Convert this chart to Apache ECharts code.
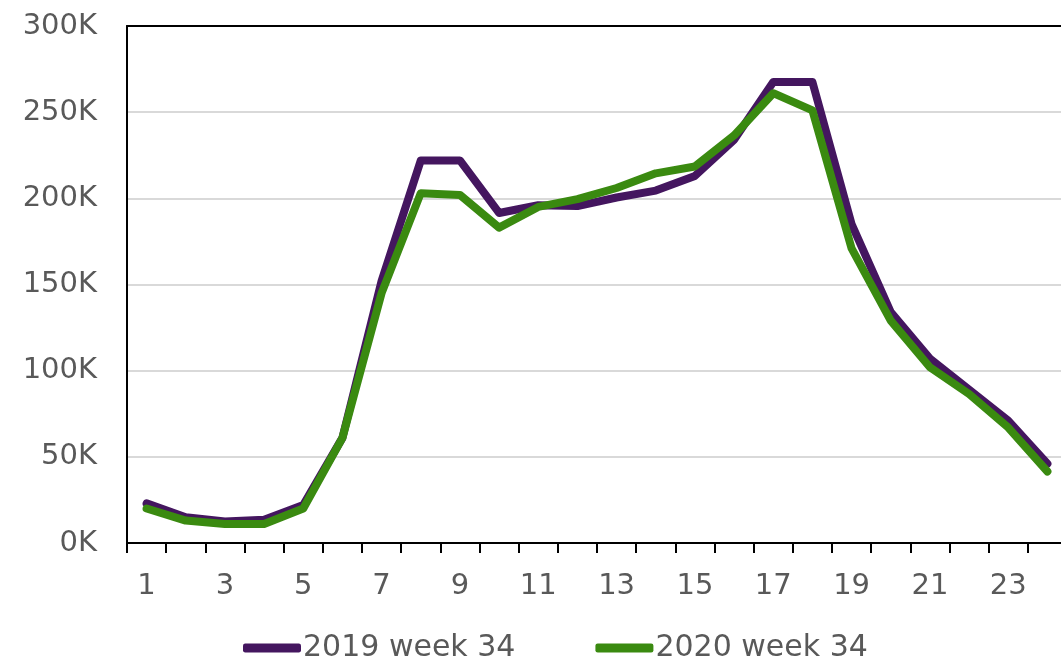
<!DOCTYPE html>
<html>
<head>
<meta charset="utf-8">
<script src="https://cdn.jsdelivr.net/npm/echarts@6/dist/echarts.min.js"></script>
<style>
  html, body { margin: 0; padding: 0; background: #fff; }
  #chart { width: 1061px; height: 664px; }
</style>
</head>
<body>
<div id="chart"></div>
<script>
const hours = ['1', '2', '3', '4', '5', '6', '7', '8', '9', '10', '11', '12',
  '13', '14', '15', '16', '17', '18', '19', '20', '21', '22', '23', '24']

const week2019 = [23000, 15000, 12500, 13500, 22000, 61000, 152000, 222000, 222000, 191500, 196000, 195500,
  200500, 204500, 213000, 234000, 267500, 267500, 185000, 134000, 107000, 89000, 71000, 46000]

const week2020 = [20000, 13000, 11000, 11000, 20000, 61000, 145000, 203000, 202000, 183000, 195000, 199500,
  206000, 214500, 218500, 236500, 261000, 251000, 171000, 129000, 102000, 86500, 67000, 41500]

const seriesNames = ['2019 week 34', '2020 week 34']

const labelColor = '#595959'
const font = 'DejaVu Sans'

const chart = echarts.init(document.getElementById('chart'))

chart.setOption({
  animation: false,
  grid: {
    left: 127,
    right: -6,
    top: 26,
    bottom: 121,
    outerBoundsMode: 'none'
  },
  legend: {
    data: seriesNames,
    left: 238,
    top: 628,
    icon: 'roundRect',
    itemWidth: 58,
    itemHeight: 9,
    itemGap: 80,
    textStyle: {
      color: labelColor,
      fontFamily: font,
      fontSize: 30,
      padding: [0, 0, 0, -3]
    }
  },
  xAxis: [
    {
      type: 'category',
      data: hours,
      boundaryGap: true,
      axisLine: { lineStyle: { color: '#000', width: 2 } },
      axisTick: { show: true, interval: 0, length: 10, lineStyle: { color: '#000', width: 2 } },
      axisLabel: {
        interval: 1,
        margin: 29,
        color: labelColor,
        fontFamily: font,
        fontSize: 29
      },
      splitLine: { show: false }
    },
    {
      // top border of the plot
      type: 'category',
      position: 'top',
      data: hours,
      axisLine: { show: true, onZero: false, lineStyle: { color: '#000', width: 2 } },
      axisTick: { show: false },
      axisLabel: { show: false },
      splitLine: { show: false }
    }
  ],
  yAxis: {
    type: 'value',
    min: 0,
    max: 300000,
    interval: 50000,
    axisLine: { show: true, lineStyle: { color: '#000', width: 2 } },
    axisTick: { show: false },
    axisLabel: {
      margin: 30,
      color: labelColor,
      fontFamily: font,
      fontSize: 29,
      formatter: (v) => v / 1000 + 'K'
    },
    splitLine: { lineStyle: { color: '#d9d9d9', width: 2 } }
  },
  series: [
    {
      name: seriesNames[0],
      type: 'line',
      data: week2019,
      symbol: 'none',
      color: '#44165f',
      lineStyle: { width: 8, cap: 'round', join: 'round' }
    },
    {
      name: seriesNames[1],
      type: 'line',
      data: week2020,
      symbol: 'none',
      color: '#3a8a10',
      lineStyle: { width: 8, cap: 'round', join: 'round' }
    }
  ]
})
</script>
</body>
</html>
